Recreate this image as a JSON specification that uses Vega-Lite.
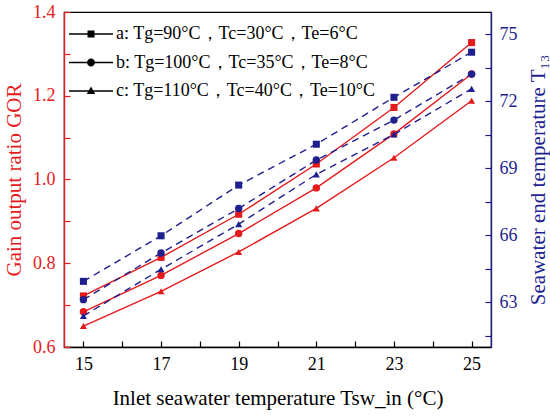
{
  "$schema": "https://vega.github.io/schema/vega-lite/v6.json",
  "width": 427,
  "height": 335,
  "autosize": {"type": "none"},
  "padding": {"left": 64, "top": 12, "right": 59, "bottom": 69},
  "config": {
    "font": "Liberation Serif",
    "view": {"stroke": "black", "strokeWidth": 1.2},
    "axis": {
      "grid": false,
      "labelFontSize": 18,
      "titleFontSize": 21,
      "titleFontWeight": "normal",
      "tickSize": -6,
      "tickWidth": 1.2,
      "domainWidth": 1.4,
      "labelPadding": 15
    }
  },
  "data": {
    "values": [
      {"x": 15, "s": "a", "gor": 0.722, "t13": 63.94},
      {"x": 17, "s": "a", "gor": 0.814, "t13": 65.98},
      {"x": 19, "s": "a", "gor": 0.917, "t13": 68.25},
      {"x": 21, "s": "a", "gor": 1.037, "t13": 70.08},
      {"x": 23, "s": "a", "gor": 1.172, "t13": 72.18},
      {"x": 25, "s": "a", "gor": 1.327, "t13": 74.2},
      {"x": 15, "s": "b", "gor": 0.684, "t13": 63.12},
      {"x": 17, "s": "b", "gor": 0.771, "t13": 65.21},
      {"x": 19, "s": "b", "gor": 0.871, "t13": 67.2},
      {"x": 21, "s": "b", "gor": 0.98, "t13": 69.37},
      {"x": 23, "s": "b", "gor": 1.109, "t13": 71.16},
      {"x": 25, "s": "b", "gor": 1.252, "t13": 73.22},
      {"x": 15, "s": "c", "gor": 0.65, "t13": 62.39},
      {"x": 17, "s": "c", "gor": 0.733, "t13": 64.48},
      {"x": 19, "s": "c", "gor": 0.827, "t13": 66.5},
      {"x": 21, "s": "c", "gor": 0.931, "t13": 68.73},
      {"x": 23, "s": "c", "gor": 1.052, "t13": 70.52},
      {"x": 25, "s": "c", "gor": 1.188, "t13": 72.56}
    ]
  },
  "encoding": {
    "x": {
      "field": "x",
      "type": "quantitative",
      "scale": {"domain": [14.5, 25.5], "nice": false, "zero": false},
      "axis": {
        "title": "Inlet seawater temperature Tsw_in (°C)",
        "values": [15, 16, 17, 18, 19, 20, 21, 22, 23, 24, 25],
        "labelExpr": "datum.value % 2 == 1 ? datum.label : ''",
        "labelPadding": 14,
        "domainColor": "black",
        "tickColor": "black",
        "labelColor": "black",
        "titleColor": "black",
        "titlePadding": 14
      }
    }
  },
  "layer": [
    {
      "mark": {"type": "line", "color": "#e41a1c", "strokeWidth": 1.4},
      "encoding": {
        "detail": {"field": "s"},
        "y": {
          "field": "gor",
          "type": "quantitative",
          "scale": {"domain": [0.6, 1.4], "nice": false, "zero": false},
          "axis": {
            "title": "Gain output ratio GOR",
            "orient": "left",
            "values": [0.6, 0.7, 0.8, 0.9, 1.0, 1.1, 1.2, 1.3, 1.4],
            "format": ".1f",
            "labelExpr": "round(datum.value * 10) % 2 == 0 ? datum.label : ''",
            "domainColor": "#e41a1c",
            "tickColor": "#e41a1c",
            "labelColor": "#e41a1c",
            "titleColor": "#e41a1c",
            "titlePadding": 8
          }
        }
      }
    },
    {
      "transform": [{"filter": "datum.s == 'a'"}],
      "mark": {"type": "point", "shape": "square", "filled": true, "opacity": 1, "color": "#e41a1c", "size": 50},
      "encoding": {
        "y": {"field": "gor", "type": "quantitative", "scale": {"domain": [0.6, 1.4], "nice": false, "zero": false}, "axis": null}
      }
    },
    {
      "transform": [{"filter": "datum.s == 'b'"}],
      "mark": {"type": "point", "shape": "circle", "filled": true, "opacity": 1, "color": "#e41a1c", "size": 55},
      "encoding": {
        "y": {"field": "gor", "type": "quantitative", "scale": {"domain": [0.6, 1.4], "nice": false, "zero": false}, "axis": null}
      }
    },
    {
      "transform": [{"filter": "datum.s == 'c'"}],
      "mark": {"type": "point", "shape": "triangle-up", "filled": true, "opacity": 1, "color": "#e41a1c", "size": 50},
      "encoding": {
        "y": {"field": "gor", "type": "quantitative", "scale": {"domain": [0.6, 1.4], "nice": false, "zero": false}, "axis": null}
      }
    },
    {
      "mark": {"type": "line", "color": "#1f1f8f", "strokeWidth": 1.4, "strokeDash": [7, 5]},
      "encoding": {
        "detail": {"field": "s"},
        "y": {
          "field": "t13",
          "type": "quantitative",
          "scale": {"domain": [61, 76], "nice": false, "zero": false},
          "axis": {
            "title": "Seawater end temperature T₁₃",
            "orient": "right",
            "titleAngle": 270,
            "titleBaseline": "top",
            "values": [61.5, 63, 64.5, 66, 67.5, 69, 70.5, 72, 73.5, 75],
            "labelExpr": "datum.value % 3 == 0 ? datum.label : ''",
            "labelPadding": 14,
            "domainColor": "#1f1f8f",
            "tickColor": "#1f1f8f",
            "labelColor": "#1f1f8f",
            "titleColor": "#1f1f8f",
            "titlePadding": 10
          }
        }
      }
    },
    {
      "transform": [{"filter": "datum.s == 'a'"}],
      "mark": {"type": "point", "shape": "square", "filled": true, "opacity": 1, "color": "#1f1f8f", "size": 50},
      "encoding": {
        "y": {"field": "t13", "type": "quantitative", "scale": {"domain": [61, 76], "nice": false, "zero": false}, "axis": null}
      }
    },
    {
      "transform": [{"filter": "datum.s == 'b'"}],
      "mark": {"type": "point", "shape": "circle", "filled": true, "opacity": 1, "color": "#1f1f8f", "size": 55},
      "encoding": {
        "y": {"field": "t13", "type": "quantitative", "scale": {"domain": [61, 76], "nice": false, "zero": false}, "axis": null}
      }
    },
    {
      "transform": [{"filter": "datum.s == 'c'"}],
      "mark": {"type": "point", "shape": "triangle-up", "filled": true, "opacity": 1, "color": "#1f1f8f", "size": 50},
      "encoding": {
        "y": {"field": "t13", "type": "quantitative", "scale": {"domain": [61, 76], "nice": false, "zero": false}, "axis": null}
      }
    },
    {
      "mark": {"type": "point", "filled": true, "opacity": 0, "size": 400, "color": "black"},
      "encoding": {
        "shape": {
          "field": "s",
          "type": "nominal",
          "scale": {
            "domain": ["a", "b", "c"],
            "range": [
              "M-1,-0.065H3.4V0.065H-1ZM0.85,-0.35H1.55V0.35H0.85Z",
              "M-1,-0.065H3.4V0.065H-1ZM1.6,0A0.4,0.4,0,1,1,0.8,0A0.4,0.4,0,1,1,1.6,0Z",
              "M-1,-0.065H3.4V0.065H-1ZM1.2,-0.45L1.62,0.3H0.78Z"
            ]
          },
          "legend": {
            "title": null,
            "orient": "none",
            "legendX": 4,
            "legendY": 11,
            "symbolSize": 400,
            "labelFontSize": 18,
            "labelLimit": 0,
            "labelOffset": 26,
            "rowPadding": 8.5,
            "labelExpr": "datum.label == 'a' ? 'a:  Tg=90°C，Tc=30°C，Te=6°C' : datum.label == 'b' ? 'b:  Tg=100°C，Tc=35°C，Te=8°C' : 'c:  Tg=110°C，Tc=40°C，Te=10°C'",
            "encode": {
              "symbols": {
                "update": {
                  "fill": {"value": "black"},
                  "opacity": {"value": 1},
                  "fillOpacity": {"value": 1}
                }
              }
            }
          }
        },
        "y": {"field": "gor", "type": "quantitative", "scale": {"domain": [0.6, 1.4], "nice": false, "zero": false}, "axis": null}
      }
    }
  ],
  "resolve": {"scale": {"y": "independent"}}
}
